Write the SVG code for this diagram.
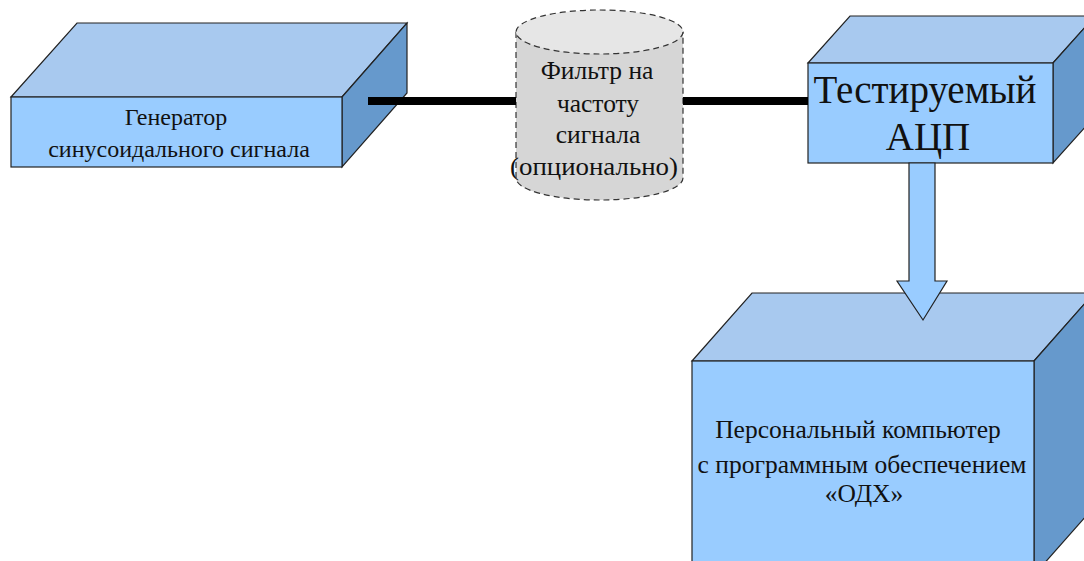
<svg xmlns="http://www.w3.org/2000/svg" width="1084" height="561" viewBox="0 0 1084 561">
<style>
.front{fill:#99ccff;stroke:#222;stroke-width:1.2}
.top{fill:#a8c9ef;stroke:#222;stroke-width:1.2}
.side{fill:#6699cc;stroke:#222;stroke-width:1.2}
.cyl{fill:#d6d6d6;stroke:#333;stroke-width:1.2;stroke-dasharray:6 4}
.cyltop{fill:#e6e6e6;stroke:#333;stroke-width:1.2;stroke-dasharray:6 4}
text{font-family:"Liberation Serif","Times New Roman",serif;fill:#111;text-anchor:middle}
.wire{stroke:#000;stroke-width:8;fill:none}
.arrow{fill:#99ccff;stroke:#222;stroke-width:1.2}
</style>
<rect width="1084" height="561" fill="#fff"/>
<g id="generator">
<polygon class="top" points="11,97 77,23 407,23 342,97"/>
<polygon class="side" points="342,97 407,23 407,93 342,167"/>
<rect class="front" x="11" y="97" width="331" height="70"/>
<text x="176" y="125" font-size="24">Генератор</text>
<text x="179" y="157" font-size="24">синусоидального сигнала</text>
</g>
<g id="filter">
<path class="cyl" d="M516,32 L516,178 A83.5,22 0 0 0 683,178 L683,32 Z"/>
<ellipse class="cyltop" cx="599.5" cy="32" rx="83.5" ry="22"/>
<text x="597" y="79" font-size="25.5">Фильтр на</text>
<text x="598" y="112" font-size="25.5">частоту</text>
<text x="598" y="143" font-size="25.5">сигнала</text>
<text x="594" y="175" font-size="25.5" textLength="168" lengthAdjust="spacingAndGlyphs">(опционально)</text>
</g>
<g id="adc">
<polygon class="top" points="808,63 850,16 1095,16 1053,63"/>
<polygon class="side" points="1053,63 1095,16 1095,116 1053,163"/>
<rect class="front" x="808" y="63" width="245" height="100"/>
<text x="925" y="103" font-size="39">Тестируемый</text>
<text x="928" y="150" font-size="39">АЦП</text>
</g>
<g id="pc">
<polygon class="top" points="692,361 752,293 1094,293 1034,361"/>
<polygon class="side" points="1034,361 1094,293 1094,507 1034,575"/>
<rect class="front" x="692" y="361" width="342" height="214"/>
<text x="858" y="438" font-size="25.5">Персональный компьютер</text>
<text x="862" y="473" font-size="25.5">с программным обеспечением</text>
<text x="864" y="502" font-size="25.5">«ОДХ»</text>
</g>
<g id="connectors">
<line class="wire" x1="368" y1="101" x2="516" y2="101"/>
<line class="wire" x1="683" y1="101" x2="808" y2="101"/>
<polygon class="arrow" points="909,163 935,163 935,281 947,281 923,320 897,281 909,281"/>
</g>
</svg>
